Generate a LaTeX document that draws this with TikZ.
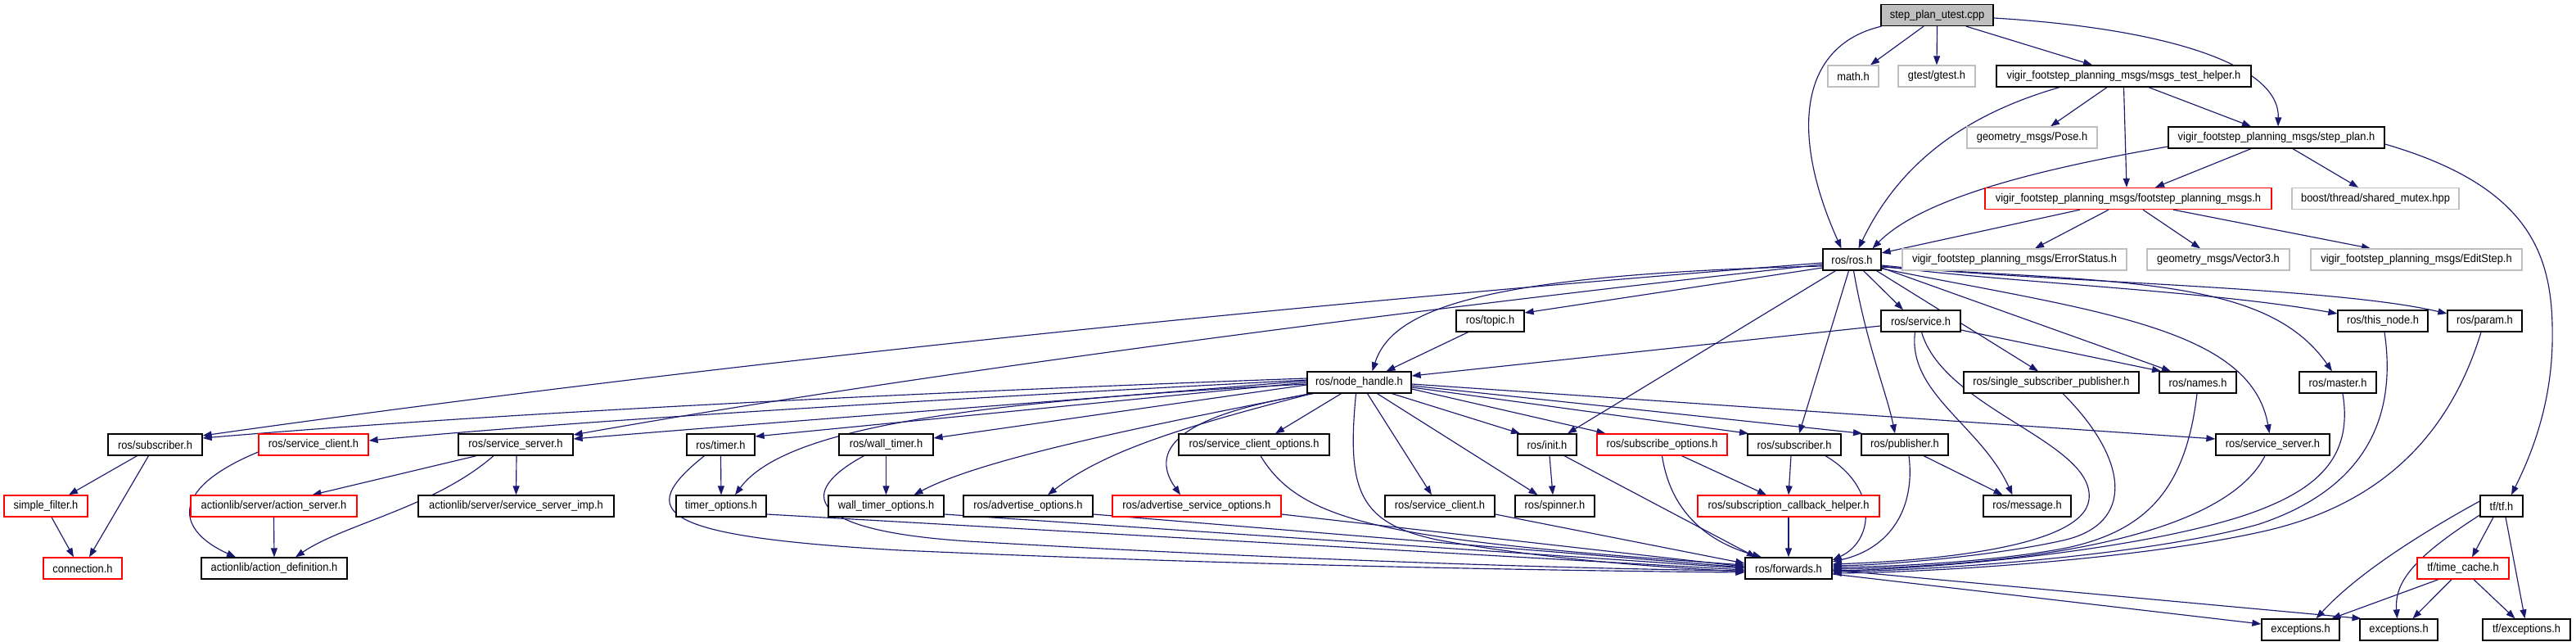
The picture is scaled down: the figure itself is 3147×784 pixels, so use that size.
\documentclass[tikz,border=0pt]{standalone}
\usepackage{fontspec}
\setmainfont{Liberation Sans}[FakeStretch=0.92]
\usetikzlibrary{arrows.meta}
\pgfdeclarelayer{background}
\pgfsetlayers{background,main}
\definecolor{edgeblue}{HTML}{191970}
\definecolor{graybd}{HTML}{BFBFBF}
\definecolor{rootfill}{HTML}{BFBFBF}
\tikzset{
  box/.style={rectangle, minimum height=26pt, inner sep=0pt, fill=white, line width=1.3pt, font=\fontsize{14}{16}\selectfont},
  bnode/.style={box, draw=black},
  gnode/.style={box, draw=graybd},
  rnode/.style={box, draw=red},
  rootnode/.style={box, draw=black, fill=rootfill},
  e/.style={draw=edgeblue, line width=1.15pt, -{Triangle[length=11pt,width=8pt]}}
}
\begin{document}
\begin{tikzpicture}[x=1pt,y=-1pt]
\useasboundingbox (0,0) rectangle (3147,784);
% row 0
\node[rootnode, minimum width=137pt] (root) at (2366.5,18.5) {step\_plan\_utest.cpp};
% row 1
\node[gnode, minimum width=62pt] (math) at (2264,93) {math.h};
\node[gnode, minimum width=94pt] (gtest) at (2366,93) {gtest/gtest.h};
\node[bnode, minimum width=311pt] (helper) at (2594.5,93) {vigir\_footstep\_planning\_msgs/msgs\_test\_helper.h};
% row 2
\node[gnode, minimum width=159pt] (pose) at (2482.5,168) {geometry\_msgs/Pose.h};
\node[bnode, minimum width=264pt] (stepplan) at (2781,168) {vigir\_footstep\_planning\_msgs/step\_plan.h};
% row 3
\node[rnode, minimum width=350pt] (fpm) at (2600,242.5) {vigir\_footstep\_planning\_msgs/footstep\_planning\_msgs.h};
\node[gnode, minimum width=204pt] (boost) at (2902,242.5) {boost/thread/shared\_mutex.hpp};
% row 4
\node[bnode, minimum width=71pt] (ros) at (2262.5,317) {ros/ros.h};
\node[gnode, minimum width=274pt] (errst) at (2461,317) {vigir\_footstep\_planning\_msgs/ErrorStatus.h};
\node[gnode, minimum width=174pt] (vec3) at (2710,317) {geometry\_msgs/Vector3.h};
\node[gnode, minimum width=258pt] (edit) at (2952,317) {vigir\_footstep\_planning\_msgs/EditStep.h};
% row 5
\node[bnode, minimum width=83pt] (topic) at (1820.5,392) {ros/topic.h};
\node[bnode, minimum width=97pt] (service) at (2346.5,392) {ros/service.h};
\node[bnode, minimum width=110pt] (thisnode) at (2911,392) {ros/this\_node.h};
\node[bnode, minimum width=91pt] (param) at (3035.5,392) {ros/param.h};
% row 6
\node[bnode, minimum width=127pt] (nh) at (1660.5,467) {ros/node\_handle.h};
\node[bnode, minimum width=214pt] (ssp) at (2506,467) {ros/single\_subscriber\_publisher.h};
\node[bnode, minimum width=94pt] (names) at (2685,467) {ros/names.h};
\node[bnode, minimum width=94pt] (master) at (2856,467) {ros/master.h};
% row 7
\node[bnode, minimum width=115pt] (subL) at (189.5,543) {ros/subscriber.h};
\node[rnode, minimum width=134pt] (scR) at (383,543) {ros/service\_client.h};
\node[bnode, minimum width=140pt] (ssL) at (630,543) {ros/service\_server.h};
\node[bnode, minimum width=83pt] (timer) at (880.5,543) {ros/timer.h};
\node[bnode, minimum width=115pt] (wtimer) at (1082.5,543) {ros/wall\_timer.h};
\node[bnode, minimum width=184pt] (sco) at (1532,543) {ros/service\_client\_options.h};
\node[bnode, minimum width=72pt] (init) at (1890,543) {ros/init.h};
\node[rnode, minimum width=159pt] (subopt) at (2030.5,543) {ros/subscribe\_options.h};
\node[bnode, minimum width=114pt] (subR) at (2192,543) {ros/subscriber.h};
\node[bnode, minimum width=106pt] (pub) at (2327,543) {ros/publisher.h};
\node[bnode, minimum width=139pt] (ssR) at (2776.5,543) {ros/service\_server.h};
% row 8
\node[rnode, minimum width=102pt] (simple) at (56,618) {simple\_filter.h};
\node[rnode, minimum width=203pt] (aserver) at (334.5,618) {actionlib/server/action\_server.h};
\node[bnode, minimum width=239pt] (ssimp) at (630.5,618) {actionlib/server/service\_server\_imp.h};
\node[bnode, minimum width=110pt] (topt) at (881,618) {timer\_options.h};
\node[bnode, minimum width=141pt] (wtopt) at (1082.5,618) {wall\_timer\_options.h};
\node[bnode, minimum width=158pt] (advopt) at (1256,618) {ros/advertise\_options.h};
\node[rnode, minimum width=206pt] (advsopt) at (1462,618) {ros/advertise\_service\_options.h};
\node[bnode, minimum width=134pt] (sclient) at (1759,618) {ros/service\_client.h};
\node[bnode, minimum width=97pt] (spinner) at (1899.5,618) {ros/spinner.h};
\node[rnode, minimum width=222pt] (scb) at (2185,618) {ros/subscription\_callback\_helper.h};
\node[bnode, minimum width=107pt] (msg) at (2476.5,618) {ros/message.h};
\node[bnode, minimum width=52pt] (tf) at (3056,618) {tf/tf.h};
% row 9
\node[rnode, minimum width=96pt] (conn) at (101,694) {connection.h};
\node[bnode, minimum width=178pt] (adef) at (335,694) {actionlib/action\_definition.h};
\node[bnode, minimum width=106pt] (fwd) at (2185,694) {ros/forwards.h};
\node[rnode, minimum width=112pt] (tcache) at (3009,694) {tf/time\_cache.h};
% row 10
\node[bnode, minimum width=95pt] (exc1) at (2810.5,769) {exceptions.h};
\node[bnode, minimum width=95pt] (exc2) at (2930.5,769) {exceptions.h};
\node[bnode, minimum width=107pt] (tfexc) at (3086.5,769) {tf/exceptions.h};

\begin{pgfonlayer}{background}
% ---- edges from root
\draw[e] ([xshift=-68pt]root.south) .. controls (2200,55) and (2185,160) .. ([xshift=-13pt]ros.north);
\draw[e] ([xshift=-16.5pt]root.south) -- ([xshift=21pt]math.north);
\draw[e] ([xshift=0pt]root.south) -- ([xshift=0pt]gtest.north);
\draw[e] ([xshift=35.5pt]root.south) -- ([xshift=-38.5pt]helper.north);
\draw[e] ([yshift=-3.5pt]root.east) .. controls (2650,35) and (2785,80) .. ([xshift=2pt]stepplan.north);
% helper
\draw[e] ([xshift=-78.5pt]helper.south) .. controls (2400,140) and (2320,200) .. ([xshift=8pt]ros.north);
\draw[e] ([xshift=-20.5pt]helper.south) -- ([xshift=22.5pt]pose.north);
\draw[e] ([xshift=0pt]helper.south) -- ([xshift=-2pt]fpm.north);
\draw[e] ([xshift=30.5pt]helper.south) -- ([xshift=-31pt]stepplan.north);
% stepplan
\draw[e] ([yshift=-11pt]stepplan.west) .. controls (2500,205) and (2350,240) .. ([xshift=25pt]ros.north);
\draw[e] ([xshift=-31pt]stepplan.south) -- ([xshift=33pt]fpm.north);
\draw[e] ([xshift=20pt]stepplan.south) -- ([xshift=-21pt]boost.north);
\draw[e] ([yshift=-8pt]stepplan.east) .. controls (3100,230) and (3120,320) .. (3118,420) .. controls (3116,500) and (3090,560) .. ([xshift=12pt]tf.north);
% fpm
\draw[e] ([xshift=-59pt]fpm.south) -- ([yshift=8pt]ros.east);
\draw[e] ([xshift=-24pt]fpm.south) -- ([xshift=25pt]errst.north);
\draw[e] ([xshift=18pt]fpm.south) -- ([xshift=-22pt]vec3.north);
\draw[e] ([xshift=55pt]fpm.south) -- ([xshift=-56pt]edit.north);
% ros
\draw[e] ([yshift=-4pt]ros.west) .. controls (1600,370) and (900,440) .. ([yshift=11pt]subL.east);
\draw[e] ([yshift=-6pt]ros.west) .. controls (1700,380) and (1100,460) .. ([yshift=12pt]ssL.east);
\draw[e] ([yshift=-8pt]ros.west) .. controls (1800,335) and (1700,380) .. ([xshift=16pt]nh.north);
\draw[e] ([yshift=-10pt]ros.west) -- ([yshift=10pt]topic.east);
\draw[e] ([xshift=-20pt]ros.south) -- ([xshift=25pt]init.north);
\draw[e] ([xshift=-4pt]ros.south) -- ([xshift=6pt]subR.north);
\draw[e] ([xshift=2pt]ros.south) .. controls (2280,420) and (2305,480) .. ([xshift=-12pt]pub.north);
\draw[e] ([xshift=14pt]ros.south) -- ([xshift=-21.5pt]service.north);
\draw[e] ([xshift=30pt]ros.south) -- ([xshift=-16pt]ssp.north);
\draw[e] ([yshift=-10pt]ros.east) -- ([xshift=-33pt]names.north);
\draw[e] ([yshift=-11pt]ros.east) .. controls (2560,380) and (2750,400) .. ([xshift=-4pt]ssR.north);
\draw[e] ([yshift=-9pt]ros.east) .. controls (2600,345) and (2770,340) .. ([xshift=-7pt]master.north);
\draw[e] ([yshift=-8pt]ros.east) .. controls (2450,345) and (2700,355) .. ([yshift=9pt]thisnode.west);
\draw[e] ([yshift=-7pt]ros.east) .. controls (2500,345) and (2850,350) .. ([yshift=9pt]param.west);
% topic, service
\draw[e] ([xshift=-27pt]topic.south) -- ([xshift=33pt]nh.north);
\draw[e] ([yshift=-6pt]service.west) -- ([yshift=8pt]nh.east);
\draw[e] ([yshift=-11pt]service.east) -- ([xshift=-45pt]names.north);
\draw[e] ([xshift=-7pt]service.south) .. controls (2330,480) and (2420,520) .. ([xshift=-18pt]msg.north);
\draw[e] ([xshift=1pt]service.south) .. controls (2375,500) and (2560,540) .. (2552,610) .. controls (2545,670) and (2350,685) .. ([yshift=5pt]fwd.east);
% into forwards from the right
\draw[e] ([xshift=14pt]ssp.south) .. controls (2600,560) and (2610,640) .. (2520,660) .. controls (2430,680) and (2300,690) .. ([yshift=3pt]fwd.east);
\draw[e] ([xshift=-1pt]names.south) .. controls (2670,600) and (2620,650) .. (2520,670) .. controls (2420,688) and (2300,692) .. ([yshift=1pt]fwd.east);
\draw[e] ([xshift=-9.5pt]ssR.south) .. controls (2720,650) and (2500,690) .. ([yshift=-1pt]fwd.east);
\draw[e] ([xshift=6pt]master.south) .. controls (2875,560) and (2830,600) .. (2740,630) .. controls (2600,675) and (2350,695) .. ([yshift=-3pt]fwd.east);
\draw[e] ([xshift=2pt]thisnode.south) .. controls (2930,520) and (2880,600) .. (2760,640) .. controls (2620,680) and (2350,697) .. ([yshift=-4pt]fwd.east);
\draw[e] ([xshift=-4.5pt]param.south) .. controls (2990,540) and (2900,620) .. (2760,650) .. controls (2600,685) and (2350,699) .. ([yshift=-6pt]fwd.east);
% node_handle
\draw[e] ([yshift=5pt]nh.west) .. controls (1100,480) and (600,505) .. ([yshift=8pt]subL.east);
\draw[e] ([yshift=3pt]nh.west) .. controls (1200,485) and (750,510) .. ([yshift=5pt]scR.east);
\draw[e] ([yshift=2pt]nh.west) .. controls (1300,490) and (950,515) .. ([yshift=7pt]ssL.east);
\draw[e] ([yshift=0pt]nh.west) -- ([yshift=10pt]timer.east);
\draw[e] ([yshift=-2pt]nh.west) .. controls (1200,490) and (960,520) .. ([xshift=17pt]topt.north);
\draw[e] ([yshift=-3pt]nh.west) -- ([yshift=8pt]wtimer.east);
\draw[e] ([xshift=-60pt]nh.south) .. controls (1400,520) and (1200,560) .. ([xshift=34pt]wtopt.north);
\draw[e] ([xshift=-58pt]nh.south) .. controls (1450,520) and (1350,550) .. ([xshift=24pt]advopt.north);
\draw[e] ([xshift=-56pt]nh.south) .. controls (1450,505) and (1400,545) .. ([xshift=-20pt]advsopt.north);
\draw[e] ([xshift=-22pt]nh.south) -- ([xshift=26pt]sco.north);
\draw[e] ([xshift=-4pt]nh.south) .. controls (1645,600) and (1660,640) .. (1760,660) .. controls (1900,685) and (2050,694) .. ([yshift=-4pt]fwd.west);
\draw[e] ([xshift=10pt]nh.south) -- ([xshift=-10pt]sclient.north);
\draw[e] ([xshift=22pt]nh.south) -- ([xshift=-21pt]spinner.north);
\draw[e] ([xshift=40pt]nh.south) -- ([xshift=-33pt]init.north);
\draw[e] ([yshift=-8pt]nh.east) -- ([xshift=-69pt]subopt.north);
\draw[e] ([yshift=-6pt]nh.east) -- ([xshift=-56pt]subR.north);
\draw[e] ([yshift=-4pt]nh.east) -- ([xshift=-52pt]pub.north);
\draw[e] ([yshift=-2pt]nh.east) -- ([yshift=7pt]ssR.west);
% timers and options
\draw[e] ([xshift=0pt]timer.south) -- ([xshift=0pt]topt.north);
\draw[e] ([xshift=-20pt]timer.south) .. controls (775,625) and (800,655) .. (1100,672) .. controls (1500,690) and (1900,697) .. ([yshift=-5pt]fwd.west);
\draw[e] ([yshift=-10pt]topt.east) -- ([yshift=-2pt]fwd.west);
\draw[e] ([xshift=0pt]wtimer.south) -- ([xshift=0pt]wtopt.north);
\draw[e] ([xshift=-27pt]wtimer.south) .. controls (975,600) and (975,650) .. (1200,662) .. controls (1600,685) and (1950,695) .. ([yshift=-3pt]fwd.west);
\draw[e] ([yshift=-10pt]wtopt.east) -- ([yshift=0pt]fwd.west);
\draw[e] ([yshift=-10pt]advopt.east) -- ([yshift=1pt]fwd.west);
\draw[e] ([yshift=-10pt]advsopt.east) -- ([yshift=2pt]fwd.west);
\draw[e] ([xshift=8pt]sco.south) .. controls (1590,640) and (1700,660) .. ([yshift=4pt]fwd.west);
\draw[e] ([yshift=-10pt]sclient.east) -- ([yshift=6pt]fwd.west);
% init, subscribe
\draw[e] ([xshift=3pt]init.south) -- ([xshift=-2.5pt]spinner.north);
\draw[e] ([xshift=21pt]init.south) -- ([xshift=-40pt]fwd.north);
\draw[e] ([xshift=0pt]subopt.south) .. controls (2040,620) and (2080,660) .. ([xshift=-33pt]fwd.north);
\draw[e] ([xshift=24pt]subopt.south) -- ([xshift=-27pt]scb.north);
\draw[e] ([xshift=-4pt]subR.south) -- ([xshift=0pt]scb.north);
\draw[e] ([xshift=38pt]subR.south) .. controls (2295,595) and (2290,660) .. ([yshift=10pt]fwd.east);
\draw[e] ([xshift=0pt]scb.south) -- ([xshift=0pt]fwd.north);
\draw[e] ([xshift=5pt]pub.south) .. controls (2340,620) and (2310,670) .. ([yshift=8pt]fwd.east);
\draw[e] ([xshift=23pt]pub.south) -- ([xshift=-30pt]msg.north);
% forwards and tf
\draw[e] ([yshift=-7pt]fwd.east) -- ([yshift=7pt]exc1.west);
\draw[e] ([yshift=-2pt]fwd.east) -- ([xshift=-46pt]exc2.north);
\draw[e] ([yshift=6pt]tf.west) .. controls (2960,650) and (2880,700) .. ([xshift=19pt]exc1.north);
\draw[e] ([yshift=-11pt]tf.west) .. controls (2950,680) and (2925,710) .. ([xshift=-2pt]exc2.north);
\draw[e] ([xshift=-10pt]tf.south) -- ([xshift=11pt]tcache.north);
\draw[e] ([xshift=5pt]tf.south) -- ([xshift=-2pt]tfexc.north);
\draw[e] ([xshift=-30pt]tcache.south) -- ([xshift=38pt]exc1.north);
\draw[e] ([xshift=-14pt]tcache.south) -- ([xshift=17pt]exc2.north);
\draw[e] ([xshift=13pt]tcache.south) -- ([xshift=-14pt]tfexc.north);
% left part
\draw[e] ([xshift=-22pt]subL.south) -- ([xshift=28pt]simple.north);
\draw[e] ([xshift=-8pt]subL.south) -- ([xshift=8pt]conn.north);
\draw[e] ([xshift=7pt]simple.south) -- ([xshift=-11pt]conn.north);
\draw[e] ([yshift=-9pt]scR.west) .. controls (200,600) and (220,650) .. ([xshift=-47pt]adef.north);
\draw[e] ([xshift=-48pt]ssL.south) -- ([xshift=47pt]aserver.north);
\draw[e] ([xshift=-27pt]ssL.south) .. controls (530,620) and (420,640) .. ([xshift=26pt]adef.north);
\draw[e] ([xshift=1pt]ssL.south) -- ([xshift=0pt]ssimp.north);
\draw[e] ([xshift=0pt]aserver.south) -- ([xshift=0pt]adef.north);
\end{pgfonlayer}
\end{tikzpicture}
\end{document}
